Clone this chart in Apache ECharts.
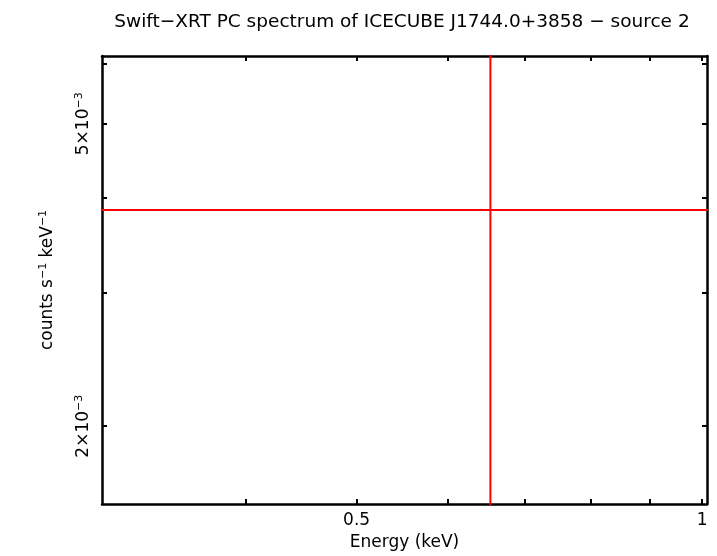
<!DOCTYPE html>
<html>
<head>
<meta charset="utf-8">
<script src="https://cdn.jsdelivr.net/npm/echarts@6/dist/echarts.min.js"></script>
<style>
  html, body { margin: 0; padding: 0; background: #fff; }
  #chart { width: 717px; height: 556px; }
</style>
</head>
<body>
<div id="chart"></div>
<script>
	// one spectral bin
	var energy = [0.654];
	var energyLow = [0.3];
	var energyHigh = [1.02];
	var rate = [3.85e-3];
	var rateLow = [1.4e-3];
	var rateHigh = [6.6e-3];

	// axis ranges and ticks
	var xRange = [0.3, 1.01];
	var yRange = [1.58e-3, 6.14e-3];
	var xTicks = [0.4, 0.5, 0.6, 0.7, 0.8, 0.9, 1.0];
	var xTickLabels = [0.5, 1];
	var yTicks = [2e-3, 3e-3, 4e-3, 5e-3, 6e-3];
	var yTickLabels = [2e-3, 5e-3];

	var font = 'DejaVu Sans, Liberation Sans, Arial, sans-serif';
	var red = '#ff0000';
	var supStyle = { fontFamily: font, fontSize: 11, verticalAlign: 'top', padding: [0, 0, 9, 0], color: '#000' };

	// error bars: one horizontal and one vertical line per bin
	var hBars = [], vBars = [];
	for (var i = 0; i < energy.length; i++) {
		hBars.push([[energyLow[i], rate[i]], [energyHigh[i], rate[i]]]);
		vBars.push([[energy[i], rateLow[i]], [energy[i], rateHigh[i]]]);
	}
	var series = [];
	hBars.concat(vBars).forEach(function (seg) {
		series.push({
			type: 'line',
			data: seg,
			symbol: 'none',
			silent: true,
			animation: false,
			lineStyle: { color: red, width: 2 }
		});
	});

	function ticks(values) {
		return { show: true, inside: true, length: 5, customValues: values, lineStyle: { color: '#000', width: 2 } };
	}

	function frameAxis(extra) {
		var base = {
			type: 'log',
			logBase: 10,
			splitLine: { show: false },
			axisLine: { show: true, onZero: false, lineStyle: { color: '#000', width: 2.5 } },
			minorTick: { show: false }
		};
		for (var k in extra) base[k] = extra[k];
		return base;
	}

	var option = {
		backgroundColor: '#fff',
		animation: false,
		title: {
			text: 'Swift\u2212XRT PC spectrum of ICECUBE J1744.0+3858 \u2212 source 2',
			left: 397,
			textAlign: 'center',
			top: 8,
			textStyle: { fontFamily: font, fontSize: 18.5, fontWeight: 'normal', color: '#000' }
		},
		grid: { left: 102, right: 10, top: 56, bottom: 51 },
		xAxis: [
			frameAxis({
				position: 'bottom',
				min: xRange[0], max: xRange[1],
				name: 'Energy (keV)',
				nameLocation: 'middle',
				nameGap: 30,
				nameTextStyle: { fontFamily: font, fontSize: 17, color: '#000' },
				axisTick: ticks(xTicks),
				axisLabel: {
					show: true, customValues: xTickLabels, margin: 8,
					fontFamily: font, fontSize: 17, color: '#000',
					formatter: function (v) { return String(+v.toFixed(2)); }
				}
			}),
			frameAxis({
				position: 'top',
				min: xRange[0], max: xRange[1],
				axisTick: ticks(xTicks),
				axisLabel: { show: false }
			})
		],
		yAxis: [
			frameAxis({
				position: 'left',
				min: yRange[0], max: yRange[1],
				name: 'counts s{sup|\u22121} keV{sup|\u22121}',
				nameLocation: 'middle',
				nameRotate: 90,
				nameGap: 44,
				nameTextStyle: { fontFamily: font, fontSize: 17, color: '#000', rich: { sup: supStyle } },
				axisTick: ticks(yTicks),
				axisLabel: {
					show: true, customValues: yTickLabels, rotate: 90, margin: 8,
					fontFamily: font, fontSize: 17, color: '#000',
					formatter: function (v) {
						return Math.round(v * 1000) + '\u00d710{sup|\u22123}';
					},
					rich: { sup: supStyle }
				}
			}),
			frameAxis({
				position: 'right',
				min: yRange[0], max: yRange[1],
				axisTick: ticks(yTicks),
				axisLabel: { show: false }
			})
		],
		series: series
	};

	echarts.init(document.getElementById('chart')).setOption(option);
</script>
</body>
</html>
